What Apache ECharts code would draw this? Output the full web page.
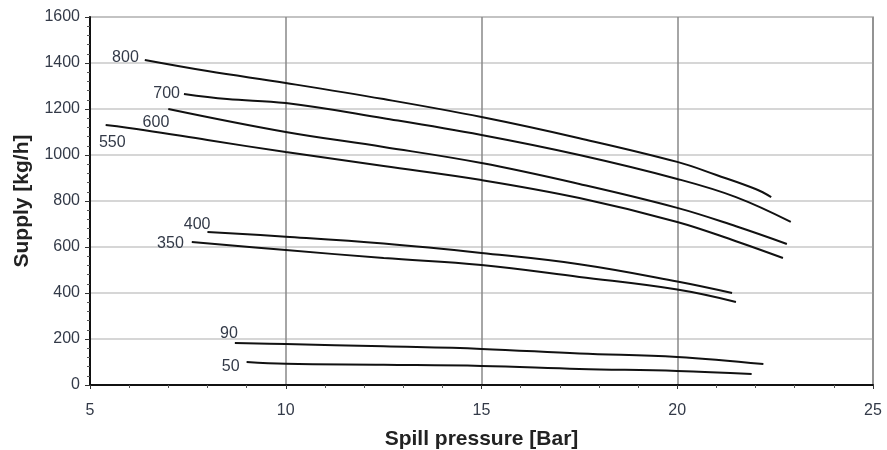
<!DOCTYPE html>
<html>
<head>
<meta charset="utf-8">
<script src="https://cdn.jsdelivr.net/npm/echarts@6/dist/echarts.min.js"></script>
<style>html,body{margin:0;padding:0;background:#fff;}#c{width:887px;height:450px;}</style>
</head>
<body>
<div id="c"></div>
<script>
// Data
const curveNames = ['800', '700', '600', '550', '400', '350', '90', '50'];
const pressure800 = [6.4, 8, 10, 12.5, 15, 17.5, 20, 21, 22, 22.4];
const supply800   = [1413, 1365, 1313, 1243, 1165, 1073, 970, 913, 852, 817];
const pressure700 = [7.4, 8.5, 10, 12.5, 15, 17.5, 20, 21.5, 22.9];
const supply700   = [1265, 1243, 1226, 1160, 1087, 1000, 896, 817, 709];
const pressure600 = [7.0, 10, 12.5, 15, 17.5, 20, 21.5, 22.8];
const supply600   = [1200, 1100, 1035, 965, 874, 770, 690, 613];
const pressure550 = [5.4, 6.4, 8, 10, 12.5, 15, 17.5, 20, 21.5, 22.7];
const supply550   = [1130, 1108, 1065, 1013, 952, 891, 813, 709, 625, 552];
const pressure400 = [8.0, 10, 12.5, 15, 17.5, 20, 21.4];
const supply400   = [665, 645, 615, 574, 525, 450, 400];
const pressure350 = [7.6, 10, 12.5, 15, 17.5, 20, 21.5];
const supply350   = [622, 587, 552, 522, 470, 415, 361];
const pressure90  = [8.7, 10, 12.5, 15, 17.5, 20, 22.2];
const supply90    = [183, 178, 168, 157, 137, 122, 91];
const pressure50  = [9.0, 10, 12.5, 15, 17.5, 20, 21.9];
const supply50    = [100, 92, 88, 83, 70, 61, 48];

const xTicks = [5, 10, 15, 20, 25];
const yTicks = [0, 200, 400, 600, 800, 1000, 1200, 1400, 1600];

const pressures = [pressure800, pressure700, pressure600, pressure550, pressure400, pressure350, pressure90, pressure50];
const supplies  = [supply800, supply700, supply600, supply550, supply400, supply350, supply90, supply50];

// label placement styling (offsets relative to the first point)
const labelOffsets = [[-2, -2], [0, 0], [5, 14], [24, 17], [7, -7], [-4, 2], [7, -9], [-3, 5]];

const series = curveNames.map((name, i) => {
  const data = pressures[i].map((x, j) => {
    if (j === 0) {
      return {
        value: [x, supplies[i][j]],
        label: {
          show: true, formatter: name, position: 'left', distance: 4,
          offset: labelOffsets[i], color: '#333a48',
          fontFamily: 'Liberation Sans', fontSize: 16
        }
      };
    }
    return [x, supplies[i][j]];
  });
  return {
    name: name, type: 'line', data: data, smooth: 0.4,
    showSymbol: true, symbol: 'circle', symbolSize: 0,
    label: { show: false },
    lineStyle: { color: '#111', width: 2 },
    z: 5, silent: true
  };
});

const chart = echarts.init(document.getElementById('c'), null, { renderer: 'canvas' });
chart.setOption({
  animation: false,
  backgroundColor: '#fff',
  grid: { left: 90, right: 14, top: 17, bottom: 65, containLabel: false, outerBoundsMode: 'none',
          show: true, borderColor: '#999', borderWidth: 1.5 },
  xAxis: {
    type: 'value', min: xTicks[0], max: xTicks[xTicks.length - 1], interval: 5,
    name: 'Spill pressure [Bar]', nameLocation: 'middle', nameGap: 44,
    nameTextStyle: { fontFamily: 'Liberation Sans', fontWeight: 'bold', fontSize: 21, color: '#222' },
    axisLine: { show: true, lineStyle: { color: '#111', width: 2 } },
    axisTick: { show: true, length: 4, lineStyle: { color: '#333' } },
    minorTick: { show: true, splitNumber: 5, length: 3, lineStyle: { color: '#555' } },
    axisLabel: { fontFamily: 'Liberation Sans', fontSize: 16, color: '#333a48', margin: 18,
                 formatter: v => String(v) },
    splitLine: { show: true, lineStyle: { color: '#888', width: 1.5 } }
  },
  yAxis: {
    type: 'value', min: yTicks[0], max: yTicks[yTicks.length - 1], interval: 200,
    name: 'Supply [kg/h]', nameLocation: 'middle', nameGap: 57, nameRotate: 90,
    nameTextStyle: { fontFamily: 'Liberation Sans', fontWeight: 'bold', fontSize: 21, color: '#222' },
    axisLine: { show: true, lineStyle: { color: '#111', width: 2 } },
    axisTick: { show: true, length: 5, lineStyle: { color: '#333' } },
    minorTick: { show: true, splitNumber: 5, length: 3, lineStyle: { color: '#555' } },
    axisLabel: { fontFamily: 'Liberation Sans', fontSize: 16, color: '#333a48', margin: 10,
                 formatter: v => String(v) },
    splitLine: { show: true, lineStyle: { color: '#c8c8c8', width: 1.5 } }
  },
  series: series
});
</script>
</body>
</html>
